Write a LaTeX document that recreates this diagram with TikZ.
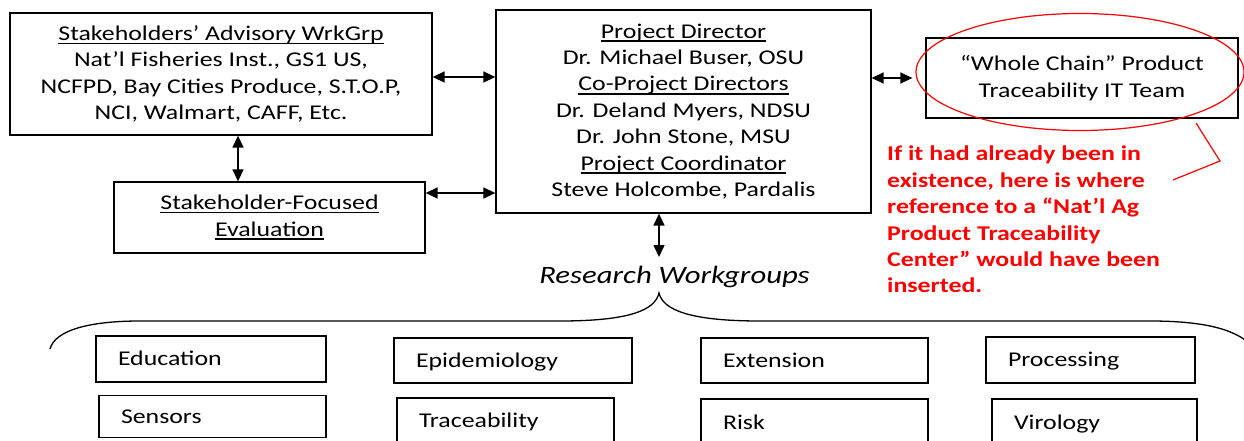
\documentclass[tikz,border=0pt]{standalone}
\usepackage{fontspec}
\setmainfont{Carlito}[FakeStretch=1.23]
\usetikzlibrary{arrows.meta}
\newcommand\ulx[1]{\setbox0\hbox{#1}\rlap{\rule[-3.6pt]{\wd0}{1.3pt}}\box0}
\begin{document}
\begin{tikzpicture}[x=1pt,y=-1pt,
  txt/.style={font=\fontsize{21pt}{26.4pt}\selectfont},
  box/.style={txt,draw,line width=1.3pt,align=center,inner sep=0pt},
  wg/.style n args={2}{txt,draw,line width=1.3pt,inner xsep=22pt,inner ysep=0pt,align=left,text width=#1,minimum height=#2,text height=13.3pt,text depth=0pt},
  dar/.style={line width=1.5pt,{Triangle[length=12pt,width=11pt]}-{Triangle[length=12pt,width=11pt]}},
  callout/.style={red,line width=1.2pt}]
\useasboundingbox (0,0) rectangle (1244,441);
\clip (0,0) rectangle (1244,441);
% top boxes
\node[box,minimum width=422pt,minimum height=122pt] (sag) at (221,74)
  {\ulx{Stakeholders’ Advisory WrkGrp}\\Nat’l Fisheries Inst., GS1 US,\\NCFPD, Bay Cities Produce, S.T.O.P,\\NCI, Walmart, CAFF, Etc.};
\node[box,minimum width=375pt,minimum height=203pt] (pd) at (683.5,111.5)
  {\ulx{Project Director}\\Dr. Michael Buser, OSU\\\ulx{Co-Project Directors}\\Dr. Deland Myers, NDSU\\Dr. John Stone, MSU\\\ulx{Project Coordinator}\\Steve Holcombe, Pardalis};
\node[box,minimum width=312pt,minimum height=80pt] (wc) at (1082,78)
  {“Whole Chain” Product\\Traceability IT Team};
\node[box,minimum width=311pt,minimum height=71pt] (eval) at (269.5,217.5)
  {\ulx{Stakeholder-Focused}\\\ulx{Evaluation}};
% research workgroups
\node[font=\fontsize{25pt}{29pt}\selectfont\itshape,inner sep=0pt] (rw) at (674.5,277) {Research Workgroups};
\node[wg={186pt}{46pt}] (edu) at (211,359) {Education};
\node[wg={183pt}{42pt}] (sen) at (212.5,416.5) {Sensors};
\node[wg={194pt}{45pt}] (epi) at (513,360.5) {Epidemiology};
\node[wg={173pt}{46pt}] (tra) at (505.5,421) {Traceability};
\node[wg={183pt}{45pt}] (ext) at (814.5,360.5) {Extension};
\node[wg={183pt}{48pt}] (risk) at (814.5,423) {Risk};
\node[wg={165pt}{46pt}] (pro) at (1090.5,360) {Processing};
\node[wg={161pt}{48pt}] (vir) at (1094.5,423) {Virology};
% arrows
\coordinate (a1) at ([yshift=-3pt]sag.east);
\draw[dar] (a1) -- (a1 -| pd.west);
\coordinate (a2) at ([yshift=24.5pt]eval.east);
\draw[dar] (a2) -- (a2 -| pd.west);
\coordinate (a3) at (pd.east |- wc.west);
\draw[dar] (a3) -- ([xshift=-13pt]wc.west);
\coordinate (a4) at ([xshift=17pt]sag.south);
\draw[dar] (a4) -- (a4 |- eval.north);
\coordinate (a5) at ([xshift=-24.5pt]pd.south);
\coordinate (rwt) at (659,257);
\draw[dar] (a5) -- (rwt);
% brace
\draw[line width=1.3pt] (50,349) .. controls (55,330) and (90,321) .. (140,321) -- (560,321)
  .. controls (630,321) and (655,310) .. (659,293)
  .. controls (663,310) and (690,321) .. (760,321) -- (1150,321)
  .. controls (1200,321) and (1235,328) .. (1252,346);
% callout
\draw[callout] (1080,72) ellipse [x radius=164pt, y radius=58.5pt];
\coordinate (c1) at (1196,123);
\coordinate (c2) at (1220,161);
\coordinate (c3) at (1173,180);
\draw[callout] (c1) -- (c2) -- (c3);
\node[txt,font=\fontsize{21pt}{26.4pt}\selectfont\bfseries,text=red,align=left,anchor=north west,inner sep=0pt] (note) at (887,146)
  {If it had already been in\\existence, here is where\\reference to a “Nat’l Ag\\Product Traceability\\Center” would have been\\inserted.};
\end{tikzpicture}
\end{document}
